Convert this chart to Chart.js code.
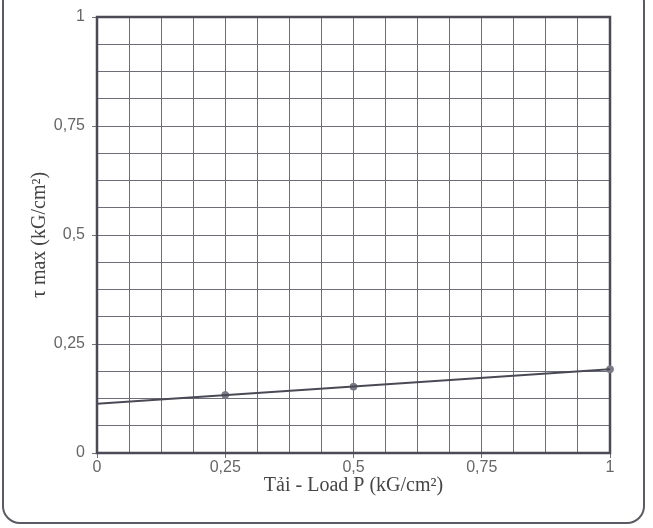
<!DOCTYPE html>
<html>
<head>
<meta charset="utf-8">
<script src="https://cdn.jsdelivr.net/npm/chart.js@4/dist/chart.umd.min.js"></script>
<style>
  html, body { margin: 0; padding: 0; background: #ffffff; }
  #wrap { position: relative; width: 653px; height: 528px; overflow: hidden; }
  #frame {
    position: absolute; left: 2px; top: -16px; width: 643px; height: 540px;
    border: 2px solid #5a5a62; border-radius: 18px; box-sizing: border-box;
  }
  canvas { position: absolute; left: 0; top: 0; }
</style>
</head>
<body>
<div id="wrap">
  <div id="frame"></div>
  <canvas id="chart" width="653" height="528"></canvas>
</div>
<script>
// measured points
const loadP = [0.25, 0.5, 1];
const tauMax = [0.133, 0.152, 0.192];
// straight line drawn through them, from P = 0
const trendP = [0, 1];
const trendTau = [0.113, 0.192];
// axes: grid every 1/16, labels every 0.25
const axisMin = 0;
const axisMax = 1;
const gridStep = 0.0625;
const labelStep = 0.25;

const isMajor = v => Math.abs(v / labelStep - Math.round(v / labelStep)) < 1e-9;
const fmt = v => String(v).replace('.', ',');

// dark frame around the plot area
const plotBorder = {
  id: 'plotBorder',
  beforeDatasetsDraw(chart) {
    const { ctx, chartArea: a } = chart;
    ctx.save();
    ctx.strokeStyle = '#4b4b55';
    ctx.lineWidth = 2.5;
    ctx.strokeRect(a.left, a.top, a.right - a.left, a.bottom - a.top);
    ctx.restore();
  }
};

function axis(title, titlePad, width, height) {
  return {
    type: 'linear',
    min: axisMin,
    max: axisMax,
    grid: {
      color: '#6e6e78',
      lineWidth: 1,
      tickLength: 5,
      tickColor: c => isMajor(c.tick.value) ? '#6e6e78' : 'rgba(0,0,0,0)'
    },
    border: { display: false },
    ticks: {
      stepSize: gridStep,
      autoSkip: false,
      maxRotation: 0,
      padding: width ? 7 : 0,
      color: '#666666',
      font: { family: 'Liberation Sans, Arial, sans-serif', size: 16 },
      callback: v => isMajor(v) ? fmt(v) : ''
    },
    title: {
      display: true,
      text: title,
      color: '#454545',
      padding: titlePad,
      font: { family: 'Liberation Serif, Times New Roman, serif', size: 20 }
    },
    afterFit(scale) {
      if (width) scale.width = width;
      if (height) scale.height = height;
    }
  };
}

const ctx = document.getElementById('chart').getContext('2d');
new Chart(ctx, {
  type: 'scatter',
  data: {
    datasets: [
      {
        label: 'trend',
        data: trendP.map((x, i) => ({ x, y: trendTau[i] })),
        showLine: true,
        borderColor: '#4a4a56',
        borderWidth: 2,
        pointRadius: 0
      },
      {
        label: 'τ max',
        data: loadP.map((x, i) => ({ x, y: tauMax[i] })),
        showLine: false,
        clip: false,
        pointRadius: 3.5,
        pointBackgroundColor: '#7b7b88',
        pointBorderColor: '#7b7b88'
      }
    ]
  },
  options: {
    responsive: false,
    animation: false,
    layout: { padding: { left: 0, top: 17, right: 43, bottom: 0 } },
    plugins: { legend: { display: false }, tooltip: { enabled: false } },
    scales: {
      x: axis('Tải - Load P (kG/cm²)', { top: 0, bottom: 30 }, 0, 75),
      y: axis('τ max (kG/cm²)', { top: 28, bottom: 0 }, 97, 0)
    }
  },
  plugins: [plotBorder]
});
</script>
</body>
</html>
